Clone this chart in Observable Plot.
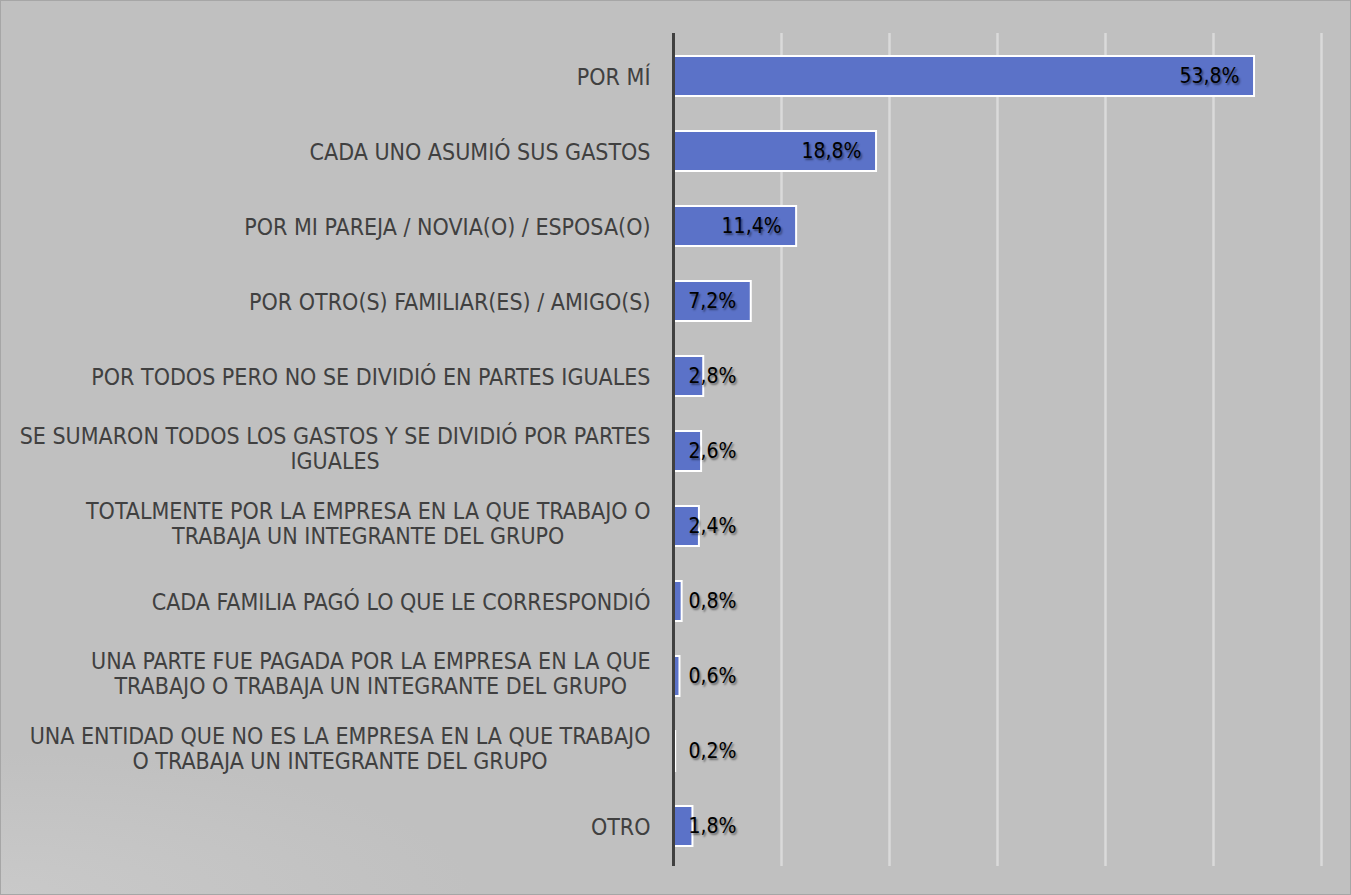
<!DOCTYPE html>
<html>
<head>
<meta charset="utf-8">
<script src="https://cdn.jsdelivr.net/npm/d3@7"></script>
<script src="https://cdn.jsdelivr.net/npm/@observablehq/plot@0.6"></script>
<style>
  html, body { margin: 0; padding: 0; background: #ffffff; }
  #chart { width: 1351px; height: 895px; }
  #chart g[aria-label="text"] text {
    text-shadow: 1.5px 1.5px 2px rgba(0,0,0,0.45);
  }
</style>
</head>
<body>
<div id="chart"></div>
<script>
const categories = [
  "POR MÍ",
  "CADA UNO ASUMIÓ SUS GASTOS",
  "POR MI PAREJA / NOVIA(O) / ESPOSA(O)",
  "POR OTRO(S) FAMILIAR(ES) / AMIGO(S)",
  "POR TODOS PERO NO SE DIVIDIÓ EN PARTES IGUALES",
  "SE SUMARON TODOS LOS GASTOS Y SE DIVIDIÓ POR PARTES\nIGUALES",
  "TOTALMENTE POR LA EMPRESA EN LA QUE TRABAJO O\nTRABAJA UN INTEGRANTE DEL GRUPO",
  "CADA FAMILIA PAGÓ LO QUE LE CORRESPONDIÓ",
  "UNA PARTE FUE PAGADA POR LA EMPRESA EN LA QUE\nTRABAJO O TRABAJA UN INTEGRANTE DEL GRUPO",
  "UNA ENTIDAD QUE NO ES LA EMPRESA EN LA QUE TRABAJO\nO TRABAJA UN INTEGRANTE DEL GRUPO",
  "OTRO"
];
const values = [53.8, 18.8, 11.4, 7.2, 2.8, 2.6, 2.4, 0.8, 0.6, 0.2, 1.8];
const xTicks = [0, 10, 20, 30, 40, 50, 60];

const data = categories.map((c, i) => ({category: c, value: values[i]}));
const fmt = v => v.toFixed(1).replace(".", ",") + "%";
const FONT = "'DejaVu Sans Condensed', 'DejaVu Sans', sans-serif";

const chart = Plot.plot({
  width: 1351,
  height: 895,
  marginLeft: 673,
  marginRight: 30,
  marginTop: 33,
  marginBottom: 29,
  style: {
    background: "radial-gradient(ellipse 35% 16% at 0% 100%, #c9c9c9 0%, #c0c0c0 100%)",
    backgroundColor: "#c0c0c0",
    fontFamily: FONT,
    boxShadow: "inset 0 0 0 1px #a6a6a6"
  },
  x: {domain: [0, 60], axis: null},
  y: {domain: categories, range: [35, 867], paddingInner: 0.47, paddingOuter: 0.27, axis: null},
  marks: [
    Plot.ruleX(xTicks.slice(1), {stroke: "#dadada", strokeWidth: 2.5}),
    Plot.barX(data, {y: "category", x: "value", fill: "#5b72c8", stroke: "#ffffff", strokeWidth: 2}),
    Plot.ruleX([0], {stroke: "#404040", strokeWidth: 3}),
    Plot.axisY({
      tickSize: 0,
      tickPadding: 23,
      fontSize: 23,
      fill: "#404040",
      lineHeight: 1.1,
      label: null
    }),
    Plot.text(data.filter(d => d.value >= 6), {
      y: "category", x: "value", text: d => fmt(d.value),
      textAnchor: "end", dx: -15, fontSize: 21, fill: "#000000"
    }),
    Plot.text(data.filter(d => d.value < 6), {
      y: "category", x: 0, text: d => fmt(d.value),
      textAnchor: "start", dx: 15, fontSize: 21, fill: "#000000"
    })
  ]
});
document.getElementById("chart").appendChild(chart);

// Centre the lines of multi-line category labels within their right-aligned block
chart.querySelectorAll('g[aria-label="y-axis tick label"] text').forEach(t => {
  const spans = Array.from(t.querySelectorAll("tspan"));
  if (spans.length < 2) return;
  const W = Math.max(...spans.map(s => s.getComputedTextLength()));
  t.setAttribute("text-anchor", "middle");
  t.setAttribute("transform", ((t.getAttribute("transform") || "") + " translate(0,-3)").trim());
  spans.forEach(s => s.setAttribute("x", (+(s.getAttribute("x") || 0)) - W / 2));
});
</script>
</body>
</html>
